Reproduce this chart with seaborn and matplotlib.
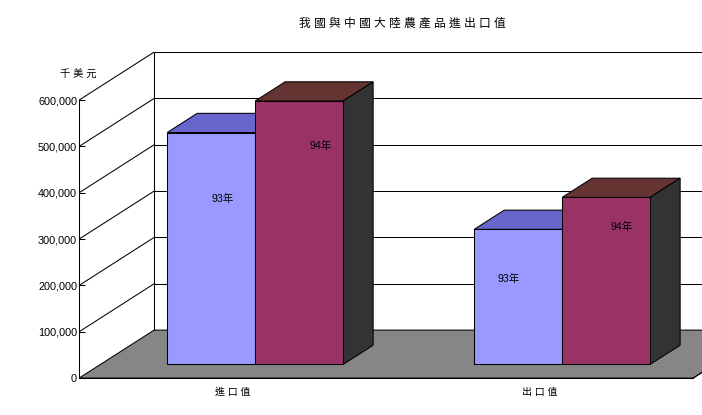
import matplotlib
matplotlib.use("Agg")
import matplotlib.pyplot as plt
from matplotlib.patches import Polygon
from matplotlib.transforms import Affine2D, IdentityTransform
from matplotlib.ticker import FuncFormatter
import pandas as pd
import seaborn as sns

categories = ["進 口 值", "出 口 值"]
years = ["93年", "94年"]
values_93 = [500500, 291500]
values_94 = [568500, 360500]
y_ticks = [0, 100000, 200000, 300000, 400000, 500000, 600000]
title = "我 國 與 中 國 大 陸 農 產 品 進 出 口 值"
unit = "千 美 元"

sns.set_theme(style="white")
plt.rcParams["font.family"] = ["Liberation Sans", "Noto Sans CJK TC"]

W, H, DPI = 702, 415, 100
LW = 0.75
DEPTH = (75.0, 48.0)          # pixel shift from front plane to back wall
BAR_D0, BAR_D1 = 0.285, 0.685 # bar depth range as a share of the full depth
BAR_NUDGE = 1.2               # small sideways pixel offset of the bars
FRONT = {"93年": "#9999FF", "94年": "#993366"}
TOP = {"93年": "#6666CC", "94年": "#663333"}
SIDE = "#333333"
FLOOR = "#868686"
LABEL_SHIFT = {(0, 0): (11, -66), (0, 1): (21, -45), (1, 0): (-10, -50), (1, 1): (15, -30)}

fig = plt.figure(figsize=(W / DPI, H / DPI), dpi=DPI, facecolor="white")
ax = fig.add_axes([79.1 / W, 1 - 378.1 / H, 614 / W, 278 / H])

df = pd.DataFrame({
    "類別": categories * 2,
    "年": [years[0]] * 2 + [years[1]] * 2,
    "值": values_93 + values_94,
})
sns.barplot(data=df, x="類別", y="值", hue="年", hue_order=years, palette=FRONT,
            width=0.573, saturation=1, edgecolor="black", linewidth=LW,
            legend=False, ax=ax, zorder=5)
ax.set_xlim(-0.5, 1.5)
ax.set_ylim(0, 600000)
ax.patch.set_alpha(0)
ax.set_xlabel("")
ax.set_ylabel("")


def proj(x, y, d=0.0, nudge=0.0):
    px, py = ax.transData.transform((x, y))
    return (px + d * DEPTH[0] + nudge, py + d * DEPTH[1])


def poly(points, color, z, edge="black"):
    ax.add_patch(Polygon(points, closed=True, facecolor=color, edgecolor=edge,
                         linewidth=LW, transform=IdentityTransform(),
                         clip_on=False, zorder=z))


def line(points, z=2):
    ax.plot([p[0] for p in points], [p[1] for p in points], color="black", lw=LW,
            transform=IdentityTransform(), clip_on=False, zorder=z, solid_capstyle="butt")


# floor, back wall and gridlines
X0, X1 = -0.5, 1.5
poly([proj(X0, 0), proj(X1, 0), proj(X1, 0, 1), proj(X0, 0, 1)], FLOOR, 1)
for v in y_ticks:
    if v:
        line([proj(X0, v), proj(X0, v, 1)])
        line([proj(X0, v, 1), proj(X1, v, 1)])
line([proj(X0, 0, 1), proj(X0, y_ticks[-1], 1)])

# bars: seaborn front faces pushed into the depth, with top and side faces
shift = Affine2D().translate(BAR_D0 * DEPTH[0] + BAR_NUDGE, BAR_D0 * DEPTH[1])
for s, container in enumerate(ax.containers):
    year = years[s]
    for c, bar in enumerate(container):
        bar.set_transform(ax.transData + shift)
        bar.set_clip_on(False)
        bar.set_zorder(5 + 2 * s)
        l, r, v = bar.get_x(), bar.get_x() + bar.get_width(), bar.get_height()
        poly([proj(l, v, BAR_D0, BAR_NUDGE), proj(r, v, BAR_D0, BAR_NUDGE),
              proj(r, v, BAR_D1, BAR_NUDGE), proj(l, v, BAR_D1, BAR_NUDGE)],
             TOP[year], 4 + 2 * s)
        poly([proj(r, 0, BAR_D0, BAR_NUDGE), proj(r, v, BAR_D0, BAR_NUDGE),
              proj(r, v, BAR_D1, BAR_NUDGE), proj(r, 0, BAR_D1, BAR_NUDGE)],
             SIDE, 4 + 2 * s)
        cx = proj((l + r) / 2, v, BAR_D0, BAR_NUDGE)
        dx, dy = LABEL_SHIFT[(c, s)]
        ax.text(cx[0] + dx, cx[1] + dy, year, transform=IdentityTransform(), ha="center",
                va="center", fontsize=7.6, color="black", zorder=20, clip_on=False)

# axes
for side in ("top", "right"):
    ax.spines[side].set_visible(False)
for side in ("left", "bottom"):
    ax.spines[side].set_color("black")
    ax.spines[side].set_linewidth(LW)
    ax.spines[side].set_zorder(3)
ax.set_yticks(y_ticks)
ax.yaxis.set_major_formatter(FuncFormatter(lambda v, _: f"{int(v):,}"))
ax.tick_params(axis="y", direction="in", length=4.5, width=LW, color="black", pad=1.5,
               labelsize=7.8, labelcolor="black", left=True)
ax.set_xticks([0, 1])
ax.set_xticklabels(categories)
ax.set_xticks([0.5, 1.5], minor=True)
ax.tick_params(axis="x", which="major", length=0, pad=6.5, labelsize=7.2, labelcolor="black")
ax.tick_params(axis="x", which="minor", direction="in", length=3.5, width=LW, color="black", bottom=True)
ax.xaxis.set_tick_params(which="both", zorder=4)
line([proj(X1, 0), proj(X1, 0, 1)], z=3)

fig.text(402 / W, 1 - 24 / H, title, ha="center", va="center", fontsize=8.5, color="black")
fig.text(78 / W, 1 - 74 / H, unit, ha="center", va="center", fontsize=7.4, color="black")

fig.savefig("out.png", dpi=DPI, facecolor="white")
